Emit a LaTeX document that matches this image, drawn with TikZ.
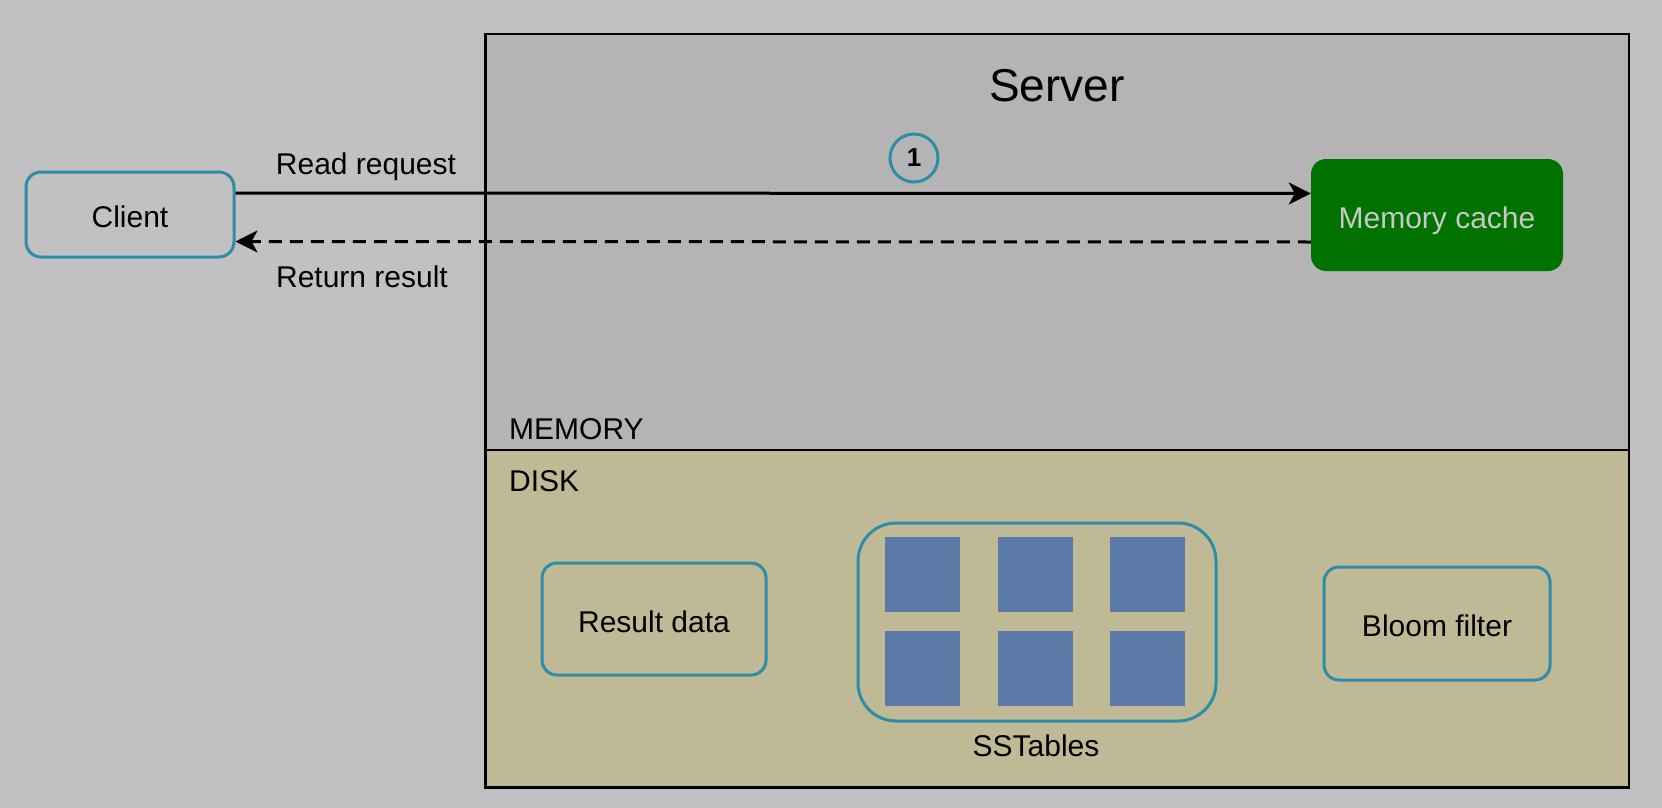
\documentclass[tikz,border=0pt]{standalone}
\usepackage{fontspec}
\setmainfont{Liberation Sans}
\usetikzlibrary{arrows.meta}
\definecolor{outerbg}{RGB}{193,193,193}
\definecolor{memfill}{RGB}{180,180,180}
\definecolor{diskfill}{RGB}{191,186,149}
\definecolor{teal}{RGB}{47,140,168}
\definecolor{cachegreen}{RGB}{0,114,0}
\definecolor{cachetext}{RGB}{200,200,200}
\definecolor{sqblue}{RGB}{92,122,168}
\tikzset{
  x=1pt, y=-1pt,
  txt/.style={font=\fontsize{30}{35}\selectfont, text=black, text height=28pt, text depth=2pt},
  region/.style={draw=none, inner sep=0pt, rectangle},
  tealbox/.style={draw=teal, line width=3pt, rounded corners=15pt, inner sep=0pt, txt},
  sqbox/.style={fill=sqblue, draw=none, minimum width=75pt, minimum height=75pt, inner sep=0pt},
  conn/.style={line width=3pt, -{Stealth[length=22pt,width=22pt,inset=6pt]}},
}
\begin{document}
\begin{tikzpicture}
\useasboundingbox (0,0) rectangle (1662,808);
\fill[outerbg] (0,0) rectangle (1662,808);

% server regions
\node[region, fill=memfill, minimum width=1143.5pt, minimum height=416pt] (mem) at (1057.25,242) {};
\node[region, fill=diskfill, minimum width=1143.5pt, minimum height=337.5pt] (disk) at (1057.25,618.75) {};
\draw[line width=2.5pt] (mem.north west) rectangle (disk.south east);
\draw[line width=2.5pt] (mem.south west) -- (mem.south east);

\node[font=\fontsize{46}{52}\selectfont] (title) at (1057,86) {Server};
\node[txt, anchor=west, inner sep=0pt] (memlabel) at (509,426) {MEMORY};
\node[txt, anchor=west, inner sep=0pt] (disklabel) at (509,478) {DISK};

% client and cache
\node[tealbox, minimum width=208pt, minimum height=85pt] (client) at (130,214.5) {Client};
\node[fill=cachegreen, draw=none, rounded corners=15pt, minimum width=252pt, minimum height=112pt, inner sep=0pt,
      txt, text=cachetext] (cache) at (1437,215) {Memory cache};

% connectors
\draw[conn] ([yshift=21.5pt]client.east) -- ([yshift=21.5pt]cache.west);
\draw[conn, dash pattern=on 13pt off 8pt] ([yshift=-27pt]cache.west) -- ([yshift=-27pt]client.east);
\node[txt] (readlbl) at (366,161) {Read request};
\node[txt] (retlbl) at (362,274) {Return result};
\node[circle, draw=teal, line width=3pt, minimum size=48pt, inner sep=0pt,
      font=\bfseries\fontsize{26}{28}\selectfont] (step1) at (914,158) {1};

% disk contents
\node[tealbox, minimum width=224pt, minimum height=112pt] (result) at (654,619) {Result data};
\node[tealbox, rounded corners=38pt, minimum width=358pt, minimum height=198pt] (sst) at (1037,622) {};
\node[sqbox] (s11) at (922.5,574) {};
\node[sqbox] (s12) at (1035,574) {};
\node[sqbox] (s13) at (1147.5,574) {};
\node[sqbox] (s21) at (922.5,668) {};
\node[sqbox] (s22) at (1035,668) {};
\node[sqbox] (s23) at (1147.5,668) {};
\node[txt] (sstlbl) at (1036,743) {SSTables};
\node[tealbox, minimum width=226pt, minimum height=113pt] (bloom) at (1437,623.5) {Bloom filter};
\end{tikzpicture}
\end{document}
